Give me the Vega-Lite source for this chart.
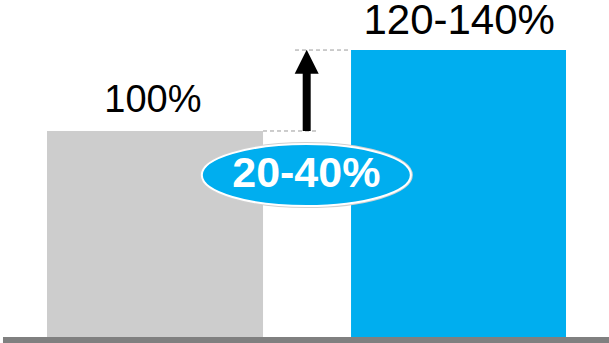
{
  "$schema": "https://vega.github.io/schema/vega-lite/v6.json",
  "width": 609,
  "height": 343,
  "autosize": {"type": "none"},
  "padding": 0,
  "background": "white",
  "config": {"view": {"stroke": null}},
  "datasets": {
    "bars": [
      {"label": "Baseline", "start": 7.72, "end": 43.19, "value": 100},
      {"label": "Improved", "start": 57.64, "end": 92.94, "value": 139.3}
    ],
    "labels": [
      {"label": "Baseline", "text": "100%", "x": 25.1, "y": 109.2},
      {"label": "Improved", "text": "120-140%", "x": 75.4, "y": 147.3}
    ],
    "dashes": [
      {"start": 43.19, "end": 52.22, "y": 100},
      {"start": 48.44, "end": 57.47, "y": 139.3}
    ],
    "arrow": [{"x": 50.36, "from": 100, "to": 129, "tip": 133.6}],
    "badge": [{"x": 50.3, "y": 78.6, "ty": 72.8, "text": "20-40%"}],
    "axisline": [{"start": 0.49, "end": 100, "y": -1.46}]
  },
  "layer": [
    {
      "data": {"name": "bars"},
      "mark": {"type": "bar"},
      "encoding": {
        "x": {"field": "start", "type": "quantitative", "scale": {"domain": [0, 100], "nice": false, "zero": false}, "axis": null},
        "x2": {"field": "end"},
        "y": {"field": "value", "type": "quantitative", "scale": {"domain": [-2.91, 163.59], "nice": false, "zero": false}, "axis": null},
        "y2": {"datum": 0},
        "color": {"field": "label", "type": "nominal", "scale": {"domain": ["Baseline", "Improved"], "range": ["#CDCDCD", "#00AEEF"]}, "legend": null}
      }
    },
    {
      "data": {"name": "axisline"},
      "mark": {"type": "rule", "color": "#808080", "strokeWidth": 6},
      "encoding": {
        "x": {"field": "start", "type": "quantitative"},
        "x2": {"field": "end"},
        "y": {"field": "y", "type": "quantitative"}
      }
    },
    {
      "data": {"name": "dashes"},
      "mark": {"type": "rule", "color": "#9A9A9A", "strokeWidth": 1, "strokeDash": [4, 3]},
      "encoding": {
        "x": {"field": "start", "type": "quantitative"},
        "x2": {"field": "end"},
        "y": {"field": "y", "type": "quantitative"}
      }
    },
    {
      "data": {"name": "arrow"},
      "mark": {"type": "rule", "color": "black", "strokeWidth": 8},
      "encoding": {
        "x": {"field": "x", "type": "quantitative"},
        "y": {"field": "from", "type": "quantitative"},
        "y2": {"field": "to"}
      }
    },
    {
      "data": {"name": "arrow"},
      "mark": {"type": "point", "shape": "M0,-1L1,1L-1,1Z", "filled": true, "color": "black", "size": 576, "opacity": 1},
      "encoding": {
        "x": {"field": "x", "type": "quantitative"},
        "y": {"field": "tip", "type": "quantitative"}
      }
    },
    {
      "data": {"name": "badge"},
      "mark": {"type": "point", "shape": "M-1,0A1,0.297,0,1,0,1,0A1,0.297,0,1,0,-1,0Z", "filled": false, "stroke": "#D0D0D0", "strokeWidth": 4, "size": 43681, "opacity": 1},
      "encoding": {
        "x": {"field": "x", "type": "quantitative"},
        "y": {"field": "y", "type": "quantitative"}
      }
    },
    {
      "data": {"name": "badge"},
      "mark": {"type": "point", "shape": "M-1,0A1,0.297,0,1,0,1,0A1,0.297,0,1,0,-1,0Z", "filled": true, "fill": "#00AEEF", "stroke": "white", "strokeWidth": 2, "size": 43681, "opacity": 1},
      "encoding": {
        "x": {"field": "x", "type": "quantitative"},
        "y": {"field": "y", "type": "quantitative"}
      }
    },
    {
      "data": {"name": "badge"},
      "mark": {"type": "text", "font": "Liberation Sans", "fontWeight": "bold", "fontSize": 43, "color": "white", "align": "center", "baseline": "alphabetic"},
      "encoding": {
        "x": {"field": "x", "type": "quantitative"},
        "y": {"field": "ty", "type": "quantitative"},
        "text": {"field": "text"}
      }
    },
    {
      "data": {"name": "labels"},
      "transform": [{"filter": "datum.label === 'Baseline'"}],
      "mark": {"type": "text", "font": "Liberation Sans", "fontSize": 38, "color": "black", "align": "center", "baseline": "alphabetic"},
      "encoding": {
        "x": {"field": "x", "type": "quantitative"},
        "y": {"field": "y", "type": "quantitative"},
        "text": {"field": "text"}
      }
    },
    {
      "data": {"name": "labels"},
      "transform": [{"filter": "datum.label === 'Improved'"}],
      "mark": {"type": "text", "font": "Liberation Sans", "fontSize": 42, "color": "black", "align": "center", "baseline": "alphabetic"},
      "encoding": {
        "x": {"field": "x", "type": "quantitative"},
        "y": {"field": "y", "type": "quantitative"},
        "text": {"field": "text"}
      }
    }
  ]
}
